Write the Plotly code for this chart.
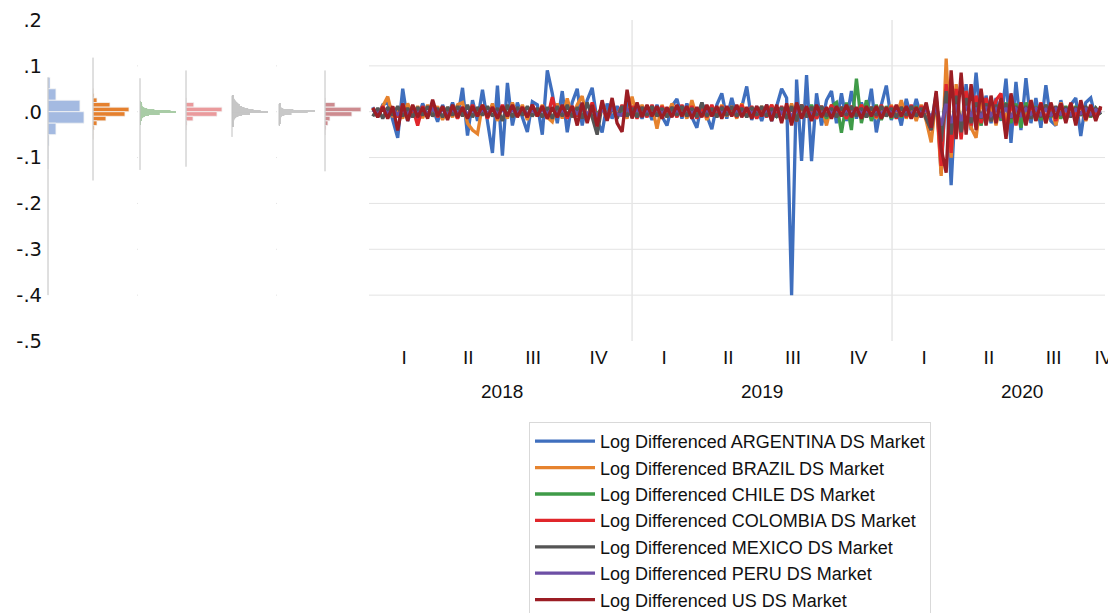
import pandas as pd
import plotly.graph_objects as go

# ---------------- data ----------------
series_names = [
    "Log Differenced ARGENTINA DS Market",
    "Log Differenced BRAZIL DS Market",
    "Log Differenced CHILE DS Market",
    "Log Differenced COLOMBIA DS Market",
    "Log Differenced MEXICO DS Market",
    "Log Differenced PERU DS Market",
    "Log Differenced US DS Market",
]
dates = pd.date_range("2018-01-02", periods=147, freq="7D")

argentina = [
    0.010, -0.012, 0.015, 0.020, -0.018, -0.057, 0.050, -0.020, 0.012, -0.015,
    0.018, -0.010, 0.008, -0.022, 0.015, -0.012, 0.020, -0.015, 0.052, -0.052,
    0.025, -0.020, 0.048, -0.018, -0.090, 0.057, -0.096, 0.063, -0.030, 0.020,
    -0.015, -0.044, 0.022, 0.015, -0.050, 0.090, 0.040, -0.025, 0.045, -0.045,
    0.020, 0.050, -0.030, 0.025, 0.052, -0.020, -0.045, 0.018, -0.015, 0.012,
    -0.010, 0.020, -0.012, 0.010, -0.015, 0.012, -0.018, 0.015, -0.010, -0.030,
    0.012, 0.028, -0.015, 0.018, -0.012, -0.035, 0.020, -0.010, -0.038, 0.015,
    0.040, -0.015, 0.030, -0.012, 0.010, 0.055, -0.018, 0.012, -0.020, 0.015,
    -0.020, 0.012, 0.050, 0.030, -0.400, 0.070, -0.107, 0.080, -0.108, 0.040,
    -0.030, 0.025, 0.045, -0.025, 0.040, -0.020, 0.045, -0.015, 0.020, -0.012,
    0.050, -0.045, 0.015, 0.057, -0.018, 0.012, -0.030, 0.028, -0.015, 0.028,
    -0.012, 0.015, -0.030, 0.040, -0.135, 0.070, -0.160, 0.050, -0.050, 0.060,
    -0.040, 0.085, -0.030, 0.035, -0.025, 0.030, -0.020, 0.072, -0.068, 0.065,
    -0.040, 0.073, -0.025, 0.030, -0.035, 0.058, -0.020, -0.030, 0.025, -0.020,
    0.015, 0.030, -0.053, 0.020, 0.030, -0.015, 0.010,
]
brazil = [
    0.008, -0.010, 0.012, 0.033, -0.012, 0.010, -0.015, 0.018, -0.010, 0.012,
    -0.014, 0.015, -0.010, 0.012, -0.018, 0.010, -0.012, 0.015, 0.020, -0.025,
    -0.040, -0.048, 0.015, -0.012, 0.018, -0.020, 0.012, -0.015, 0.020, -0.010,
    0.015, -0.018, 0.012, -0.010, 0.015, -0.012, -0.022, 0.018, -0.015, 0.029,
    -0.012, 0.015, 0.034, -0.018, 0.012, -0.025, 0.020, -0.012, 0.015, -0.010,
    0.012, -0.015, 0.033, -0.012, 0.015, -0.010, 0.012, -0.037, 0.015, -0.012,
    0.018, -0.010, 0.012, -0.015, 0.025, -0.012, 0.015, -0.018, 0.010, -0.012,
    0.015, -0.010, 0.012, -0.015, 0.018, -0.012, 0.010, -0.014, 0.012, -0.010,
    0.015, -0.012, 0.010, -0.015, 0.018, -0.020, 0.015, -0.012, 0.010, -0.015,
    0.012, -0.030, 0.015, -0.012, 0.010, -0.015, 0.012, -0.010, 0.015, -0.012,
    0.010, -0.015, 0.012, -0.010, 0.015, -0.012, 0.025, -0.015, 0.012, -0.020,
    0.015, -0.020, -0.067, 0.030, -0.140, 0.116, -0.100, 0.060, -0.040, 0.045,
    -0.035, -0.057, 0.030, -0.025, 0.020, -0.030, 0.025, -0.020, 0.030, -0.025,
    0.020, -0.015, 0.025, -0.020, 0.018, -0.025, 0.015, -0.030, 0.020, -0.015,
    0.018, -0.012, 0.015, -0.020, 0.012, -0.015, 0.010,
]
chile = [
    0.005, -0.006, 0.008, -0.005, 0.006, -0.008, 0.005, -0.006, 0.007, -0.005,
    0.006, -0.007, 0.005, -0.006, 0.008, -0.005, 0.006, -0.007, 0.005, -0.008,
    0.006, -0.005, 0.007, -0.006, 0.005, -0.008, 0.006, -0.005, 0.007, -0.006,
    0.005, -0.007, 0.006, -0.005, 0.008, -0.006, 0.005, -0.007, 0.006, -0.005,
    0.007, -0.006, 0.005, -0.008, 0.006, -0.005, 0.007, -0.006, 0.005, -0.007,
    0.006, -0.005, 0.008, -0.006, 0.005, -0.007, 0.006, -0.005, 0.007, -0.006,
    0.005, -0.008, 0.006, -0.005, 0.007, -0.006, 0.005, -0.007, 0.006, -0.005,
    0.008, -0.006, 0.005, -0.007, 0.006, -0.005, 0.007, -0.006, 0.005, -0.008,
    0.006, -0.010, 0.008, -0.012, 0.010, -0.015, 0.012, -0.010, 0.015, -0.012,
    0.010, -0.015, 0.012, 0.020, -0.046, 0.020, -0.040, 0.072, -0.025, 0.025,
    -0.020, 0.015, -0.018, 0.012, -0.015, 0.010, -0.012, 0.008, -0.010, 0.012,
    -0.008, 0.010, -0.030, 0.020, -0.080, 0.050, -0.060, 0.045, -0.045, 0.035,
    -0.025, 0.020, -0.030, 0.025, -0.020, 0.015, -0.018, 0.020, -0.025, 0.018,
    -0.035, 0.020, -0.015, 0.012, -0.018, 0.015, -0.012, 0.010, -0.015, 0.012,
    -0.010, 0.012, -0.008, 0.010, -0.012, 0.008, -0.006,
]
colombia = [
    0.008, -0.010, 0.012, -0.008, 0.010, -0.012, 0.015, -0.010, 0.008, -0.030,
    0.012, -0.010, 0.015, -0.012, 0.010, -0.008, 0.012, -0.015, 0.010, -0.012,
    0.015, -0.010, 0.012, -0.015, 0.010, -0.012, 0.015, -0.010, 0.012, -0.008,
    0.010, -0.012, 0.015, -0.010, 0.012, -0.015, 0.032, -0.012, 0.010, -0.015,
    0.012, -0.010, 0.015, -0.012, 0.020, -0.015, 0.012, -0.018, 0.010, -0.012,
    0.015, -0.010, 0.012, -0.015, 0.010, -0.012, 0.015, -0.010, 0.012, -0.008,
    0.010, -0.012, 0.015, -0.010, 0.012, -0.015, 0.010, -0.012, 0.015, -0.010,
    0.012, -0.008, 0.010, -0.012, 0.015, -0.010, 0.012, -0.015, 0.010, -0.012,
    0.015, -0.010, 0.012, -0.015, 0.010, -0.020, 0.015, -0.012, 0.010, -0.015,
    0.012, -0.010, 0.015, -0.012, 0.010, -0.015, 0.012, -0.010, 0.015, -0.012,
    0.010, -0.012, 0.015, -0.010, 0.012, -0.015, 0.010, -0.012, 0.015, -0.010,
    0.012, -0.015, -0.040, 0.030, -0.118, 0.060, -0.090, 0.050, -0.060, 0.045,
    -0.030, 0.035, -0.025, 0.030, -0.020, 0.025, 0.040, -0.050, 0.025, -0.030,
    0.020, -0.025, 0.018, -0.015, 0.020, -0.018, 0.015, -0.020, 0.018, -0.015,
    0.015, -0.012, 0.018, -0.015, 0.012, -0.010, 0.008,
]
mexico = [
    -0.010, 0.008, -0.015, 0.010, -0.008, 0.012, -0.010, 0.008, -0.012, 0.010,
    -0.008, 0.012, -0.010, 0.008, -0.012, 0.010, -0.008, 0.012, -0.010, 0.015,
    -0.012, 0.010, -0.008, 0.012, -0.010, 0.008, -0.020, 0.015, -0.012, 0.010,
    -0.008, 0.012, -0.010, 0.008, -0.012, 0.010, -0.015, 0.012, -0.010, 0.015,
    -0.012, 0.010, -0.015, 0.020, -0.012, -0.050, 0.015, -0.012, 0.010, -0.015,
    0.012, -0.010, 0.008, -0.012, 0.010, -0.008, 0.012, -0.010, 0.008, -0.012,
    0.010, -0.008, 0.012, -0.010, 0.008, -0.012, 0.020, -0.010, 0.008, -0.012,
    0.010, -0.008, 0.012, -0.010, 0.008, -0.012, 0.010, -0.008, 0.012, -0.010,
    0.008, -0.012, 0.010, -0.015, 0.012, -0.020, 0.015, -0.012, 0.010, -0.008,
    0.012, -0.010, 0.008, -0.012, 0.010, -0.008, 0.012, -0.010, 0.008, -0.012,
    0.010, -0.008, 0.012, -0.010, 0.008, -0.012, 0.010, -0.008, 0.012, -0.010,
    0.008, -0.015, -0.040, 0.025, -0.065, 0.045, -0.050, 0.035, -0.045, 0.030,
    -0.025, 0.020, -0.015, 0.018, -0.020, 0.015, -0.012, 0.018, -0.015, 0.012,
    -0.010, 0.012, -0.015, 0.010, -0.012, 0.015, -0.010, 0.012, -0.008, 0.010,
    -0.012, 0.010, -0.008, 0.012, -0.010, 0.008, -0.006,
]
peru = [
    0.004, -0.005, 0.006, -0.004, 0.005, -0.006, 0.004, -0.005, 0.006, -0.004,
    0.005, -0.004, 0.006, -0.005, 0.004, -0.006, 0.005, -0.004, 0.006, -0.005,
    0.004, -0.006, 0.005, -0.004, 0.006, -0.005, 0.004, -0.006, 0.005, -0.004,
    0.006, -0.005, 0.004, -0.006, 0.005, -0.004, 0.006, -0.005, 0.004, -0.006,
    0.005, -0.004, 0.006, -0.005, 0.004, -0.008, 0.005, -0.006, 0.007, -0.005,
    -0.008, 0.006, -0.004, 0.005, -0.006, 0.004, -0.005, 0.006, -0.004, 0.005,
    -0.006, 0.004, -0.005, 0.006, -0.004, 0.005, -0.006, 0.004, -0.005, 0.006,
    -0.004, 0.005, -0.006, 0.004, -0.005, 0.006, -0.004, 0.005, -0.006, 0.004,
    -0.005, 0.006, -0.004, 0.005, -0.010, 0.006, -0.008, 0.005, -0.006, 0.004,
    -0.005, 0.006, -0.004, 0.005, -0.006, 0.004, -0.005, 0.006, -0.004, 0.005,
    -0.006, 0.004, -0.005, 0.006, -0.004, 0.005, -0.006, 0.004, -0.005, 0.006,
    -0.004, 0.005, -0.012, 0.010, -0.030, 0.017, -0.025, 0.015, -0.020, 0.012,
    -0.010, 0.008, -0.012, 0.010, -0.008, 0.006, -0.010, 0.008, -0.012, 0.006,
    -0.008, 0.006, -0.005, 0.007, -0.006, 0.005, -0.007, 0.006, -0.005, 0.004,
    -0.006, 0.005, -0.004, 0.006, -0.005, 0.004, -0.003,
]
us = [
    0.008, -0.012, 0.010, -0.015, 0.012, -0.041, 0.018, -0.020, 0.015, -0.012,
    0.010, -0.015, 0.026, -0.010, 0.012, -0.018, 0.015, -0.012, 0.010, -0.015,
    0.012, -0.010, 0.015, -0.012, 0.010, -0.015, 0.012, -0.010, 0.015, -0.012,
    0.010, -0.012, 0.015, -0.010, 0.012, -0.015, 0.010, -0.012, 0.015, -0.010,
    0.012, -0.030, 0.020, -0.025, 0.015, -0.032, 0.025, -0.020, 0.030, -0.025,
    -0.044, 0.048, -0.015, 0.020, -0.012, 0.015, -0.010, 0.012, -0.015, 0.010,
    -0.012, 0.015, -0.010, 0.012, -0.015, 0.010, -0.012, 0.015, -0.010, 0.012,
    -0.015, 0.012, -0.010, 0.015, -0.012, 0.010, -0.015, 0.012, -0.010, 0.015,
    -0.020, 0.015, -0.025, 0.018, -0.030, 0.020, -0.015, 0.012, -0.020, 0.015,
    -0.012, 0.010, -0.015, 0.012, -0.010, 0.015, -0.012, 0.010, -0.015, 0.012,
    -0.010, 0.012, -0.015, 0.010, -0.012, 0.015, -0.010, 0.012, -0.015, 0.010,
    -0.012, 0.020, -0.035, 0.045, -0.080, -0.133, 0.090, -0.060, 0.085, -0.050,
    0.060, -0.040, 0.050, -0.030, 0.035, -0.025, 0.030, -0.059, 0.040, -0.025,
    0.020, -0.030, 0.025, -0.020, 0.018, -0.025, 0.020, -0.015, 0.018, -0.025,
    0.020, -0.030, 0.025, -0.018, 0.015, -0.020, 0.012,
]
series_values = [argentina, brazil, chile, colombia, mexico, peru, us]
line_colors = ["#3f6fbe", "#e6832e", "#3f9b48", "#e0262b", "#555555", "#6d4fa5", "#9b1d24"]

# marginal histograms (bin centres, bin width, relative counts, data range)
hist_centers = [
    [0.0625, 0.0375, 0.0125, -0.0125, -0.0375, -0.0625, -0.0875, -0.1125],
    [0.045, 0.035, 0.025, 0.015, 0.005, -0.005, -0.015, -0.025, -0.035, -0.045, -0.055],
    [0.02125, 0.01875, 0.01625, 0.01375, 0.01125, 0.00875, 0.00625, 0.00375, 0.00125,
     -0.00125, -0.00375, -0.00625, -0.00875, -0.01125, -0.01375, -0.01625, -0.01875,
     -0.02125, -0.02375, -0.02625],
    [0.025, 0.015, 0.005, -0.005, -0.015, -0.025, -0.035],
    [0.03375, 0.03125, 0.02875, 0.02625, 0.02375, 0.02125, 0.01875, 0.01625, 0.01375,
     0.01125, 0.00875, 0.00625, 0.00375, 0.00125, -0.00125, -0.00375, -0.00625,
     -0.00875, -0.01125, -0.01375, -0.01625, -0.01875, -0.02125, -0.02375, -0.02625,
     -0.02875, -0.03125],
    [0.01625, 0.01375, 0.01125, 0.00875, 0.00625, 0.00375, 0.00125, -0.00125, -0.00375,
     -0.00625, -0.00875, -0.01125, -0.01375, -0.01625, -0.01875, -0.02125, -0.02375,
     -0.02625, -0.02875],
    [0.025, 0.015, 0.005, -0.005, -0.015, -0.025, -0.035, -0.045],
]
hist_bin_width = [0.025, 0.01, 0.0025, 0.01, 0.0025, 0.0025, 0.01]
hist_counts = [
    [16, 63, 253, 285, 63, 8, 3, 2],
    [2, 7, 28, 118, 250, 222, 90, 28, 8, 3, 2],
    [2, 3, 4, 6, 8, 12, 20, 40, 85, 100, 55, 25, 14, 9, 6, 4, 3, 2, 2, 1],
    [3, 50, 230, 198, 45, 6, 2],
    [3, 5, 6, 8, 10, 12, 15, 18, 22, 28, 35, 45, 60, 80, 100, 50, 28, 18, 12, 9, 7,
     6, 5, 4, 4, 3, 3],
    [3, 4, 5, 7, 12, 40, 100, 80, 35, 15, 8, 6, 5, 4, 4, 3, 3, 2, 2],
    [3, 64, 230, 172, 32, 19, 6, 2],
]
hist_range = [(-0.40, 0.075), (-0.15, 0.118), (-0.127, 0.073), (-0.12, 0.09),
              (-0.055, 0.035), (-0.03, 0.017), (-0.13, 0.09)]
hist_colors = ["#a4bae1", "#e5802e", "#a9cca6", "#ea9a9c", "#c6c6c6", "#c8c8c8", "#cd8b8f"]

y_ticks = [0.2, 0.1, 0.0, -0.1, -0.2, -0.3, -0.4, -0.5]
y_ticktext = [".2", ".1", ".0", "-.1", "-.2", "-.3", "-.4", "-.5"]
quarter_dates = ["2018-02-15", "2018-05-16", "2018-08-15", "2018-11-15",
                 "2019-02-15", "2019-05-16", "2019-08-15", "2019-11-15",
                 "2020-02-15", "2020-05-16", "2020-08-15", "2020-10-24"]
quarter_text = ["I", "II", "III", "IV"] * 3
year_labels = ["2018", "2019", "2020"]
year_centers = ["2018-07-02", "2019-07-02", "2020-07-02"]
year_bounds = ["2019-01-01", "2020-01-01"]

# ---------------- layout geometry ----------------
# the page body adds an 8px margin, so the figure is drawn 8px smaller and shifted
OFF = 8
W, H = 1116 - OFF, 613 - OFF
ML, MR, MT, MB = 46 - OFF, 11, 20 - OFF, 272
PW = W - ML - MR
PH = H - MT - MB
hist_base_px = [48, 93, 140, 186, 232, 279, 325]   # reference-image pixels
BAR_MAX = 36

fig = go.Figure()
AX = "Liberation Sans Narrow, Arial Narrow, sans-serif"

layout_axes = {}
for k in range(7):
    ax_id = k + 2
    unit = max(hist_counts[k]) / BAR_MAX
    d0 = hist_base_px[k] - 2 - 46
    d1 = hist_base_px[k] + 44 - 46
    layout_axes[f"xaxis{ax_id}"] = dict(
        domain=[d0 / PW, d1 / PW], range=[-2 * unit, 44 * unit], anchor="y",
        visible=False, showgrid=False, zeroline=False, fixedrange=True)
    fig.add_trace(go.Scatter(
        x=[0, 0], y=list(hist_range[k]), mode="lines",
        line=dict(color="#c0c0c0", width=1), xaxis=f"x{ax_id}", yaxis="y",
        showlegend=False, hoverinfo="skip"))
    fine = hist_bin_width[k] < 0.005
    fig.add_trace(go.Bar(
        x=hist_counts[k], y=hist_centers[k], orientation="h",
        width=hist_bin_width[k], base=0,
        marker=dict(color=hist_colors[k],
                    line=dict(color="#f4f4f4", width=0 if fine else 0.8)),
        xaxis=f"x{ax_id}", yaxis="y", showlegend=False, hoverinfo="skip"))

for name, vals, col in zip(series_names, series_values, line_colors):
    fig.add_trace(go.Scatter(
        x=dates, y=vals, mode="lines", name=name,
        line=dict(color=col, width=3.3), legendgroup=name))

shapes = []
for v in y_ticks[1:-1]:
    shapes.append(dict(type="line", xref="x domain", yref="y", x0=0, x1=1, y0=v, y1=v,
                       line=dict(color="#e3e3e3", width=1), layer="below"))
for d in year_bounds:
    shapes.append(dict(type="line", xref="x", yref="y domain", x0=d, x1=d, y0=0, y1=1,
                       line=dict(color="#e6e6e6", width=1.5), layer="below"))

annotations = [dict(x=c, y=-50 / PH, xref="x", yref="paper", text=t, showarrow=False,
                    xanchor="center", yanchor="middle",
                    font=dict(family=AX, size=19, color="#111111"))
               for c, t in zip(year_centers, year_labels)]

fig.update_layout(
    width=W, height=H, margin=dict(l=ML, r=MR, t=MT, b=MB, autoexpand=False),
    paper_bgcolor="white", plot_bgcolor="white",
    barmode="overlay",
    xaxis=dict(type="date", domain=[2 / PW, 1], range=["2016-10-03", "2020-10-26"],
               tickmode="array", tickvals=quarter_dates, ticktext=quarter_text,
               showgrid=False, zeroline=False, showline=False, ticks="",
               ticklabelstandoff=3,
               tickfont=dict(family=AX, size=19, color="#111111"), fixedrange=True),
    yaxis=dict(range=[-0.5, 0.2], tickmode="array", tickvals=y_ticks, ticktext=y_ticktext,
               showgrid=False, zeroline=False, showline=False, ticks="",
               ticklabelstandoff=5,
               tickfont=dict(family="DejaVu Sans, Verdana, sans-serif", size=19.5,
                             color="#111111"), fixedrange=True, anchor="x"),
    showlegend=True,
    legend=dict(x=(529 - 46) / PW, y=(20 + PH - 422) / PH,
                xanchor="left", yanchor="top", bgcolor="white",
                bordercolor="#d9d9d9", borderwidth=1, itemwidth=60,
                tracegroupgap=0,
                font=dict(family="Liberation Sans, Arial, sans-serif", size=18,
                          color="#111111")),
    shapes=shapes, annotations=annotations,
    **layout_axes,
)
fig.write_html("out.html")
